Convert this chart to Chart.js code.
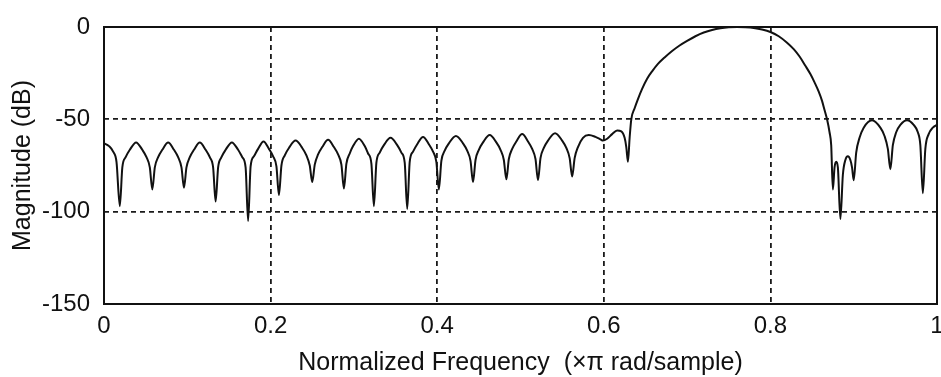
<!DOCTYPE html>
<html>
<head>
<meta charset="utf-8">
<script src="https://cdn.jsdelivr.net/npm/chart.js@4.4.1/dist/chart.umd.min.js"></script>
<style>
  html, body { margin: 0; padding: 0; background: #fff; }
  #wrap { width: 941px; height: 377px; }
</style>
</head>
<body>
<div id="wrap"><canvas id="myChart" width="941" height="377"></canvas></div>
<script>
// normalized frequency (x pi rad/sample)
const freq = [
  0.000, 0.006, 0.011, 0.015, 0.019,
  0.022, 0.026, 0.031, 0.0385, 0.046, 0.051, 0.055, 0.058,
  0.061, 0.065, 0.070, 0.077, 0.084, 0.089, 0.093, 0.096,
  0.099, 0.103, 0.108, 0.115, 0.122, 0.127, 0.131, 0.134,
  0.137, 0.141, 0.146, 0.1535, 0.161, 0.166, 0.170, 0.173,
  0.176, 0.180, 0.185, 0.1915, 0.198, 0.203, 0.207, 0.210,
  0.213, 0.217, 0.222, 0.230, 0.238, 0.243, 0.247, 0.250,
  0.253, 0.257, 0.262, 0.269, 0.276, 0.281, 0.285, 0.288,
  0.291, 0.295, 0.299, 0.306, 0.313, 0.317, 0.321, 0.324,
  0.327, 0.331, 0.336, 0.344, 0.352, 0.357, 0.361, 0.364,
  0.367, 0.371, 0.376, 0.383, 0.390, 0.395, 0.399, 0.402,
  0.405, 0.409, 0.414, 0.4225, 0.431, 0.436, 0.440, 0.443,
  0.446, 0.450, 0.455, 0.463, 0.471, 0.476, 0.480, 0.483,
  0.486, 0.490, 0.495, 0.502, 0.509, 0.514, 0.518, 0.521,
  0.524, 0.528, 0.533, 0.5415, 0.550, 0.555, 0.559, 0.562,
  0.565, 0.569, 0.575, 0.582, 0.590, 0.596, 0.599,
  0.604, 0.610, 0.616, 0.621, 0.625, 0.627, 0.629,
  0.631, 0.633, 0.637, 0.641, 0.646, 0.652, 0.658, 0.665, 0.673, 0.682,
  0.691, 0.700, 0.710, 0.720, 0.730, 0.740, 0.750, 0.760, 0.770, 0.780,
  0.790, 0.800, 0.810, 0.820, 0.828, 0.835, 0.842, 0.848, 0.853, 0.858,
  0.862, 0.865, 0.868, 0.871, 0.873, 0.875, 0.877, 0.879, 0.881, 0.884,
  0.887, 0.890, 0.893, 0.896, 0.898, 0.900,
  0.903, 0.907, 0.912, 0.922, 0.932, 0.937, 0.941, 0.944,
  0.947, 0.951, 0.956, 0.964, 0.972, 0.977, 0.980, 0.983,
  0.986, 0.990, 0.995, 1.000,
];

// magnitude in dB at each frequency above
const magnitude = [
  -63, -64.5, -67.5, -73, -97,
  -76, -70.5, -66.5, -62.5, -66.5, -70.5, -76, -88,
  -76, -70.5, -66.5, -62.5, -66.5, -70.5, -76, -87,
  -76, -70.5, -66.5, -62.5, -66.5, -70.5, -76, -94.5,
  -76, -70.5, -66.5, -62.5, -66.5, -70.5, -76, -105,
  -75.5, -70, -66, -62, -66, -70, -75.5, -91,
  -75, -69.5, -65.5, -61.5, -65.5, -69.5, -75, -84,
  -74.5, -69, -65, -61, -65, -69, -74.5, -87.5,
  -74, -68.5, -64.5, -60.5, -64.5, -68.5, -74, -97,
  -73.5, -68, -64, -60, -64, -68, -73.5, -98.5,
  -73, -67.5, -63.5, -59.5, -63.5, -67.5, -73, -88,
  -72.5, -67, -63, -59, -63, -67, -72.5, -84,
  -72, -66.5, -62.5, -58.5, -62.5, -66.5, -72, -82.5,
  -71.5, -66, -62, -58, -62, -66, -71.5, -83,
  -71, -65.5, -61.5, -57.5, -61.5, -65.5, -71, -81,
  -71, -65, -60, -58.5, -59.5, -60.8, -61.5,
  -60.5, -58, -56, -56.5, -60, -65, -73,
  -60, -50, -44, -39, -33.5, -28, -24, -20, -16.5, -13,
  -10, -7.5, -5, -3, -1.6, -0.7, -0.2, 0, -0.2, -0.6,
  -1.4, -2.7, -5, -8.5, -12, -16, -21, -25.5, -30, -35,
  -40, -45, -50, -57, -64, -88, -76, -73, -76, -104,
  -80, -72, -70, -72, -76, -83,
  -68, -60, -54.5, -50.5, -54.5, -59, -66, -77,
  -64, -57, -53, -50.5, -53, -57, -64, -90,
  -66, -58, -54.5, -53,
];

const xTicks = [0, 0.2, 0.4, 0.6, 0.8, 1];
const yTicks = [-150, -100, -50, 0];

const xTitle = "Normalized Frequency  (\u00d7\u03c0 rad/sample)";
const yTitle = "Magnitude (dB)";

const framePlugin = {
  id: "frame",
  afterDraw(chart) {
    const { ctx, chartArea } = chart;
    ctx.save();
    ctx.strokeStyle = "#111";
    ctx.lineWidth = 2;
    ctx.setLineDash([]);
    ctx.strokeRect(
      chartArea.left,
      chartArea.top,
      chartArea.right - chartArea.left,
      chartArea.bottom - chartArea.top
    );
    ctx.restore();
  },
};

function createChart() {
  Chart.defaults.font.family = "'Liberation Sans', Arial, sans-serif";
  Chart.defaults.color = "#111";

  const points = freq.map((f, i) => ({ x: f, y: magnitude[i] }));

  const ctx = document.getElementById("myChart").getContext("2d");
  new Chart(ctx, {
    type: "line",
    data: {
      datasets: [
        {
          data: points,
          borderColor: "#111",
          borderWidth: 2,
          pointRadius: 0,
          fill: false,
          cubicInterpolationMode: "monotone",
        },
      ],
    },
    options: {
      responsive: false,
      animation: false,
      devicePixelRatio: 1,
      layout: { padding: { top: 27, right: 4, left: 0, bottom: 0 } },
      scales: {
        x: {
          type: "linear",
          min: 0,
          max: 1,
          afterBuildTicks: (axis) => {
            axis.ticks = xTicks.map((v) => ({ value: v }));
          },
          afterFit: (axis) => {
            axis.height = 73;
            axis.paddingLeft = 0;
            axis.paddingRight = 0;
          },
          ticks: {
            font: { size: 24, lineHeight: 1 },
            padding: 10,
            maxRotation: 0,
            autoSkip: false,
            callback: (v) => String(v),
          },
          grid: {
            drawTicks: false,
            lineWidth: 1.8,
            color: (c) =>
              c.tick && (c.tick.value === 0 || c.tick.value === 1) ? "transparent" : "#1a1a1a",
          },
          border: { display: false, dash: [5, 4] },
          title: {
            display: true,
            text: xTitle,
            font: { size: 25, lineHeight: 1 },
            padding: { top: 0, bottom: 1 },
          },
        },
        y: {
          min: -150,
          max: 0,
          afterBuildTicks: (axis) => {
            axis.ticks = yTicks.map((v) => ({ value: v }));
          },
          afterFit: (axis) => {
            axis.width = 104;
            axis.paddingTop = 0;
            axis.paddingBottom = 0;
          },
          ticks: {
            font: { size: 24, lineHeight: 1 },
            padding: 14,
            callback: (v) => String(v),
          },
          grid: {
            drawTicks: false,
            lineWidth: 1.8,
            color: (c) =>
              c.tick && (c.tick.value === 0 || c.tick.value === -150) ? "transparent" : "#1a1a1a",
          },
          border: { display: false, dash: [5, 4] },
          title: {
            display: true,
            text: yTitle,
            font: { size: 25, lineHeight: 1 },
            padding: { top: 11, bottom: 0 },
          },
        },
      },
      plugins: {
        legend: { display: false },
        tooltip: { enabled: false },
      },
    },
    plugins: [framePlugin],
  });
}

createChart();
</script>
</body>
</html>
